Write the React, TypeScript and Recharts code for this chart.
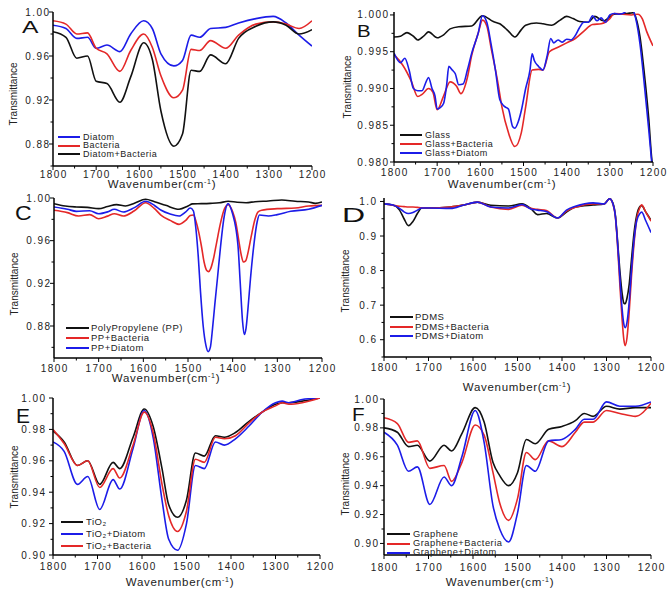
import React from 'react';
import { LineChart, Line, XAxis, YAxis, Legend } from 'recharts';

// ---------- data ----------
const X_TICKS = [1800, 1750, 1700, 1650, 1600, 1550, 1500, 1450, 1400, 1350, 1300, 1250, 1200];

// Panel A
const A_X = [1800, 1770, 1745, 1720, 1700, 1675, 1645, 1620, 1590, 1570, 1550, 1520, 1500, 1480, 1460, 1435, 1400, 1370, 1330, 1290, 1260, 1230, 1200];
const A_DIATOM = [0.988, 0.985, 0.976, 0.977, 0.967, 0.970, 0.964, 0.980, 0.992, 0.985, 0.962, 0.951, 0.956, 0.979, 0.977, 0.985, 0.986, 0.990, 0.994, 0.996, 0.990, 0.979, 0.969];
const A_BACTERIA = [0.992, 0.989, 0.980, 0.981, 0.967, 0.962, 0.946, 0.965, 0.980, 0.968, 0.942, 0.922, 0.929, 0.966, 0.965, 0.974, 0.967, 0.979, 0.989, 0.991, 0.989, 0.985, 0.992];
const A_BOTH = [0.982, 0.977, 0.958, 0.960, 0.937, 0.935, 0.918, 0.941, 0.972, 0.957, 0.910, 0.878, 0.889, 0.947, 0.946, 0.961, 0.953, 0.976, 0.987, 0.991, 0.988, 0.980, 0.984];
const A_NAMES = ['Diatom', 'Bacteria', 'Diatom+Bacteria'];
const A_Y_TICKS = [0.86, 0.88, 0.9, 0.92, 0.94, 0.96, 0.98, 1.0];
const A_Y_LABELS = [0.88, 0.92, 0.96, 1.0];

// Panel B
const B_GLASS_X = [1800, 1785, 1770, 1755, 1745, 1730, 1720, 1700, 1685, 1670, 1650, 1620, 1595, 1570, 1555, 1535, 1520, 1505, 1495, 1470, 1455, 1435, 1415, 1400, 1385, 1370, 1350, 1335, 1315, 1290, 1260, 1245, 1240, 1230, 1220, 1210, 1203, 1200];
const B_GLASS = [0.9970, 0.9971, 0.9976, 0.9971, 0.9966, 0.9972, 0.9977, 0.9969, 0.9973, 0.9981, 0.9984, 0.9985, 0.9999, 0.9991, 0.9988, 0.9978, 0.9970, 0.9980, 0.9986, 0.9989, 0.9988, 0.9986, 0.9993, 0.9998, 0.9995, 0.9991, 0.9990, 0.9998, 0.9992, 1.0001, 1.0002, 1.0003, 0.9997, 0.9970, 0.9920, 0.9860, 0.9805, 0.9790];
const B_BAC_X = [1800, 1780, 1760, 1745, 1735, 1720, 1710, 1700, 1685, 1670, 1655, 1645, 1630, 1620, 1605, 1595, 1585, 1575, 1560, 1550, 1535, 1520, 1505, 1495, 1480, 1465, 1455, 1440, 1420, 1400, 1380, 1360, 1340, 1320, 1300, 1290, 1270, 1250, 1235, 1225, 1215, 1200];
const B_BAC = [0.9946, 0.9932, 0.9910, 0.9889, 0.9892, 0.9900, 0.9895, 0.9871, 0.9890, 0.9909, 0.9903, 0.9893, 0.9915, 0.9945, 0.9975, 0.9993, 0.9985, 0.9955, 0.9910, 0.9875, 0.9840, 0.9821, 0.9840, 0.9875, 0.9925, 0.9926, 0.9925, 0.9950, 0.9956, 0.9962, 0.9968, 0.9978, 0.9987, 0.9988, 0.9995, 1.0002, 1.0001, 1.0000, 1.0001, 0.9995, 0.9978, 0.9958];
const B_DIA_X = [1800, 1785, 1775, 1765, 1755, 1745, 1735, 1725, 1720, 1712, 1705, 1700, 1693, 1685, 1678, 1673, 1665, 1658, 1650, 1640, 1630, 1620, 1605, 1595, 1585, 1575, 1565, 1555, 1545, 1535, 1525, 1520, 1512, 1505, 1495, 1485, 1480, 1475, 1465, 1455, 1445, 1437, 1430, 1420, 1410, 1400, 1390, 1380, 1370, 1360, 1350, 1340, 1330, 1320, 1310, 1300, 1290, 1280, 1270, 1260, 1250, 1240, 1230, 1220, 1210, 1203, 1200];
const B_DIA = [0.9948, 0.9935, 0.9941, 0.9925, 0.9900, 0.9897, 0.9897, 0.9910, 0.9915, 0.9900, 0.9890, 0.9872, 0.9874, 0.9880, 0.9905, 0.9930, 0.9925, 0.9920, 0.9905, 0.9906, 0.9925, 0.9948, 0.9975, 0.9999, 0.9990, 0.9960, 0.9925, 0.9885, 0.9876, 0.9872, 0.9848, 0.9846, 0.9855, 0.9870, 0.9900, 0.9925, 0.9947, 0.9938, 0.9930, 0.9925, 0.9945, 0.9968, 0.9962, 0.9966, 0.9963, 0.9967, 0.9966, 0.9972, 0.9983, 0.9990, 0.9990, 0.9999, 0.9992, 0.9996, 0.9990, 1.0000, 1.0002, 1.0001, 1.0002, 1.0006, 1.0009, 0.9995, 0.9960, 0.9905, 0.9845, 0.9800, 0.9780];
const B_NAMES = ['Glass', 'Glass+Bacteria', 'Glass+Diatom'];
const B_Y_TICKS = [0.98, 0.9825, 0.985, 0.9875, 0.99, 0.9925, 0.995, 0.9975, 1.0];
const B_Y_LABELS = [0.98, 0.985, 0.99, 0.995, 1.0];

// Panel C
const C_PP_X = [1800, 1775, 1750, 1725, 1700, 1680, 1660, 1640, 1620, 1595, 1575, 1550, 1520, 1500, 1490, 1470, 1450, 1430, 1410, 1390, 1370, 1350, 1320, 1290, 1260, 1230, 1215, 1200];
const C_PP = [0.9947, 0.9925, 0.9916, 0.9912, 0.9900, 0.9920, 0.9938, 0.9925, 0.9950, 0.9988, 0.9965, 0.9931, 0.9894, 0.9925, 0.9945, 0.9947, 0.9950, 0.9955, 0.9969, 0.9960, 0.9956, 0.9965, 0.9972, 0.9981, 0.9970, 0.9963, 0.9950, 0.9963];
const C_BAC_X = [1800, 1770, 1745, 1720, 1700, 1680, 1665, 1645, 1620, 1595, 1575, 1560, 1540, 1520, 1505, 1495, 1488, 1482, 1476, 1470, 1464, 1458, 1454, 1449, 1443, 1436, 1428, 1420, 1410, 1400, 1393, 1387, 1381, 1376, 1371, 1365, 1358, 1350, 1343, 1335, 1300, 1260, 1230, 1200];
const C_BAC = [0.9885, 0.9863, 0.9831, 0.9844, 0.9806, 0.9830, 0.9853, 0.9831, 0.9880, 0.9956, 0.9900, 0.9838, 0.9790, 0.9753, 0.9790, 0.9835, 0.9840, 0.9780, 0.9680, 0.9550, 0.9400, 0.9320, 0.9310, 0.9340, 0.9430, 0.9580, 0.9750, 0.9880, 0.9938, 0.9870, 0.9770, 0.9620, 0.9470, 0.9400, 0.9410, 0.9500, 0.9650, 0.9800, 0.9870, 0.9885, 0.9900, 0.9906, 0.9925, 0.9931];
const C_DIA_X = [1800, 1770, 1750, 1720, 1700, 1680, 1665, 1645, 1620, 1595, 1575, 1560, 1540, 1520, 1505, 1495, 1488, 1482, 1477, 1472, 1466, 1460, 1455, 1450, 1445, 1440, 1434, 1427, 1420, 1410, 1400, 1393, 1388, 1383, 1378, 1374, 1370, 1366, 1360, 1352, 1345, 1340, 1320, 1300, 1270, 1230, 1200];
const C_DIA = [0.9916, 0.9895, 0.9875, 0.9880, 0.9853, 0.9870, 0.9894, 0.9869, 0.9910, 0.9969, 0.9930, 0.9885, 0.9850, 0.9831, 0.9870, 0.9906, 0.9880, 0.9700, 0.9450, 0.9120, 0.8800, 0.8620, 0.8560, 0.8600, 0.8780, 0.9000, 0.9250, 0.9550, 0.9800, 0.9947, 0.9850, 0.9720, 0.9550, 0.9200, 0.8850, 0.8720, 0.8780, 0.8950, 0.9250, 0.9580, 0.9780, 0.9840, 0.9831, 0.9844, 0.9875, 0.9894, 0.9931];
const C_NAMES = ['PolyPropylene (PP)', 'PP+Bacteria', 'PP+Diatom'];
const C_Y_TICKS = [0.86, 0.88, 0.9, 0.92, 0.94, 0.96, 0.98, 1.0];
const C_Y_LABELS = [0.88, 0.92, 0.96, 1.0];

// Panel D
const D_X = [1800, 1780, 1765, 1755, 1745, 1735, 1725, 1715, 1700, 1650, 1620, 1590, 1560, 1520, 1490, 1470, 1455, 1435, 1410, 1390, 1370, 1330, 1305, 1293, 1285, 1280, 1276, 1270, 1265, 1261, 1258, 1254, 1249, 1244, 1238, 1232, 1225, 1221, 1212, 1200];
const D_PDMS = [0.993, 0.990, 0.975, 0.950, 0.930, 0.942, 0.965, 0.981, 0.981, 0.984, 0.990, 0.998, 0.989, 0.987, 0.993, 0.979, 0.962, 0.965, 0.952, 0.969, 0.984, 0.990, 0.993, 1.008, 0.993, 0.960, 0.900, 0.800, 0.735, 0.706, 0.704, 0.720, 0.760, 0.830, 0.910, 0.960, 0.985, 0.988, 0.970, 0.946];
const D_BAC = [0.993, 0.989, 0.986, 0.985, 0.984, 0.984, 0.983, 0.982, 0.981, 0.984, 0.990, 0.998, 0.984, 0.977, 0.989, 0.980, 0.977, 0.974, 0.952, 0.972, 0.983, 0.993, 0.993, 1.008, 0.990, 0.955, 0.890, 0.760, 0.660, 0.600, 0.583, 0.605, 0.680, 0.780, 0.880, 0.950, 0.982, 0.990, 0.970, 0.943];
const D_DIA = [0.993, 0.990, 0.980, 0.970, 0.965, 0.968, 0.975, 0.981, 0.981, 0.980, 0.990, 0.998, 0.984, 0.981, 0.991, 0.978, 0.975, 0.971, 0.952, 0.975, 0.986, 0.996, 0.993, 1.008, 0.991, 0.957, 0.895, 0.780, 0.690, 0.645, 0.635, 0.650, 0.710, 0.800, 0.890, 0.945, 0.965, 0.969, 0.945, 0.910];
const D_NAMES = ['PDMS', 'PDMS+Bacteria', 'PDMS+Diatom'];
const D_Y_TICKS = [0.55, 0.6, 0.65, 0.7, 0.75, 0.8, 0.85, 0.9, 0.95, 1.0];
const D_Y_LABELS = [0.6, 0.7, 0.8, 0.9, 1.0];

// Panel E
const E_X = [1800, 1775, 1745, 1722, 1695, 1665, 1650, 1620, 1595, 1575, 1555, 1540, 1520, 1500, 1480, 1460, 1435, 1415, 1390, 1360, 1330, 1300, 1285, 1270, 1240, 1200];
const E_TIO2 = [0.979, 0.972, 0.957, 0.960, 0.945, 0.959, 0.955, 0.975, 0.993, 0.982, 0.955, 0.932, 0.924, 0.935, 0.965, 0.963, 0.976, 0.975, 0.978, 0.985, 0.991, 0.996, 0.997, 0.997, 0.998, 1.000];
const E_DIA = [0.972, 0.966, 0.945, 0.950, 0.929, 0.948, 0.942, 0.968, 0.992, 0.975, 0.935, 0.910, 0.903, 0.920, 0.957, 0.955, 0.972, 0.970, 0.974, 0.982, 0.991, 0.997, 0.998, 0.997, 0.999, 1.000];
const E_BAC = [0.980, 0.971, 0.957, 0.960, 0.943, 0.955, 0.949, 0.970, 0.991, 0.978, 0.945, 0.925, 0.915, 0.928, 0.961, 0.959, 0.975, 0.974, 0.976, 0.984, 0.991, 0.995, 0.997, 0.996, 0.997, 1.000];
const E_NAMES = ['TiO₂', 'TiO₂+Diatom', 'TiO₂+Bacteria'];
const E_Y_TICKS = [0.9, 0.91, 0.92, 0.93, 0.94, 0.95, 0.96, 0.97, 0.98, 0.99, 1.0];
const E_Y_LABELS = [0.9, 0.92, 0.94, 0.96, 0.98, 1.0];

// Panel F
const F_X = [1800, 1770, 1745, 1725, 1697, 1665, 1648, 1625, 1595, 1575, 1555, 1540, 1520, 1500, 1480, 1460, 1430, 1400, 1370, 1350, 1330, 1300, 1270, 1235, 1200];
const F_GRAPHENE = [0.980, 0.977, 0.967, 0.968, 0.957, 0.968, 0.964, 0.976, 0.994, 0.984, 0.956, 0.947, 0.940, 0.949, 0.972, 0.969, 0.979, 0.981, 0.985, 0.990, 0.988, 0.995, 0.993, 0.994, 0.994];
const F_BAC = [0.987, 0.983, 0.970, 0.971, 0.952, 0.954, 0.943, 0.956, 0.982, 0.975, 0.949, 0.928, 0.916, 0.931, 0.963, 0.958, 0.971, 0.967, 0.977, 0.984, 0.984, 0.992, 0.990, 0.988, 0.997];
const F_DIA = [0.977, 0.968, 0.950, 0.953, 0.927, 0.946, 0.940, 0.960, 0.992, 0.970, 0.926, 0.910, 0.901, 0.921, 0.954, 0.950, 0.971, 0.972, 0.979, 0.986, 0.986, 0.998, 0.995, 0.995, 0.998];
const F_NAMES = ['Graphene', 'Graphene+Bacteria', 'Graphene+Diatom'];
const F_Y_TICKS = [0.9, 0.91, 0.92, 0.93, 0.94, 0.95, 0.96, 0.97, 0.98, 0.99, 1.0];
const F_Y_LABELS = [0.9, 0.92, 0.94, 0.96, 0.98, 1.0];

// ---------- styling ----------
const BLUE = '#1c1ce8';
const RED = '#e42828';
const BLACK = '#111111';
const FONT = '"Liberation Sans", Arial, Helvetica, sans-serif';

type Pt = { x: number; y: number };
type Series = { name: string; color: string; data: Pt[] };
const pts = (xs: number[], ys: number[]): Pt[] => xs.map((x, i) => ({ x, y: ys[i] }));

interface PanelCfg {
  letter: string;
  letterPos: { x: number; y: number; size: number; sx: number };
  plot: { l: number; t: number; r: number; b: number };
  yDomain: [number, number];
  yTicks: number[];
  yLabels: number[];
  yDigits: number;
  yGap: number;
  xOff: number;
  yTitle: { x: number; y: number };
  xTitle: { x: number; y: number };
  legend: { x: number; row1: number; gap: number; lineW: number; textGap: number; font: number };
  series: Series[];
}

const PANELS: PanelCfg[] = [
  {
    letter: 'A', letterPos: { x: 22, y: 33, size: 17, sx: 1.45 },
    plot: { l: 53, t: 12, r: 312, b: 166 }, yDomain: [0.86, 1.0],
    yTicks: A_Y_TICKS, yLabels: A_Y_LABELS, yDigits: 2, yGap: 4, xOff: 8,
    yTitle: { x: 13, y: 94 }, xTitle: { x: 162, y: 184 },
    legend: { x: 58, row1: 137, gap: 8.5, lineW: 22, textGap: 3, font: 9 },
    series: [
      { name: A_NAMES[0], color: BLUE, data: pts(A_X, A_DIATOM) },
      { name: A_NAMES[1], color: RED, data: pts(A_X, A_BACTERIA) },
      { name: A_NAMES[2], color: BLACK, data: pts(A_X, A_BOTH) },
    ],
  },
  {
    letter: 'B', letterPos: { x: 357, y: 36.5, size: 17, sx: 1.2 },
    plot: { l: 394, t: 12, r: 653, b: 162 }, yDomain: [0.98, 1.0004],
    yTicks: B_Y_TICKS, yLabels: B_Y_LABELS, yDigits: 3, yGap: 6, xOff: 10,
    yTitle: { x: 347, y: 87 }, xTitle: { x: 502, y: 184 },
    legend: { x: 400, row1: 135, gap: 9, lineW: 22, textGap: 3, font: 9 },
    series: [
      { name: B_NAMES[0], color: BLACK, data: pts(B_GLASS_X, B_GLASS) },
      { name: B_NAMES[1], color: RED, data: pts(B_BAC_X, B_BAC) },
      { name: B_NAMES[2], color: BLUE, data: pts(B_DIA_X, B_DIA) },
    ],
  },
  {
    letter: 'C', letterPos: { x: 15, y: 220, size: 20, sx: 1.15 },
    plot: { l: 54, t: 198, r: 322, b: 358 }, yDomain: [0.85, 1.0],
    yTicks: C_Y_TICKS, yLabels: C_Y_LABELS, yDigits: 2, yGap: 4, xOff: 10,
    yTitle: { x: 14, y: 284 }, xTitle: { x: 166, y: 378 },
    legend: { x: 66, row1: 328, gap: 10, lineW: 23, textGap: 2, font: 9.5 },
    series: [
      { name: C_NAMES[0], color: BLACK, data: pts(C_PP_X, C_PP) },
      { name: C_NAMES[1], color: RED, data: pts(C_BAC_X, C_BAC) },
      { name: C_NAMES[2], color: BLUE, data: pts(C_DIA_X, C_DIA) },
    ],
  },
  {
    letter: 'D', letterPos: { x: 342, y: 222, size: 20, sx: 1.6 },
    plot: { l: 384, t: 198, r: 651, b: 357 }, yDomain: [0.55, 1.01],
    yTicks: D_Y_TICKS, yLabels: D_Y_LABELS, yDigits: 1, yGap: 8, xOff: 10,
    yTitle: { x: 345, y: 281 }, xTitle: { x: 517, y: 387 },
    legend: { x: 390, row1: 317, gap: 9.5, lineW: 23, textGap: 2, font: 9.5 },
    series: [
      { name: D_NAMES[0], color: BLACK, data: pts(D_X, D_PDMS) },
      { name: D_NAMES[1], color: RED, data: pts(D_X, D_BAC) },
      { name: D_NAMES[2], color: BLUE, data: pts(D_X, D_DIA) },
    ],
  },
  {
    letter: 'E', letterPos: { x: 16, y: 423, size: 20, sx: 1.05 },
    plot: { l: 53, t: 398, r: 320, b: 555 }, yDomain: [0.9, 1.0],
    yTicks: E_Y_TICKS, yLabels: E_Y_LABELS, yDigits: 2, yGap: 8, xOff: 11,
    yTitle: { x: 14, y: 477 }, xTitle: { x: 180, y: 582 },
    legend: { x: 61, row1: 522, gap: 12, lineW: 22, textGap: 3, font: 9.5 },
    series: [
      { name: E_NAMES[0], color: BLACK, data: pts(E_X, E_TIO2) },
      { name: E_NAMES[1], color: BLUE, data: pts(E_X, E_DIA) },
      { name: E_NAMES[2], color: RED, data: pts(E_X, E_BAC) },
    ],
  },
  {
    letter: 'F', letterPos: { x: 352, y: 420.5, size: 18, sx: 1.15 },
    plot: { l: 384, t: 399, r: 651, b: 555 }, yDomain: [0.892, 1.0],
    yTicks: F_Y_TICKS, yLabels: F_Y_LABELS, yDigits: 2, yGap: 6, xOff: 12,
    yTitle: { x: 345, y: 484 }, xTitle: { x: 500, y: 582 },
    legend: { x: 387, row1: 534.5, gap: 9.3, lineW: 23, textGap: 3, font: 9.3 },
    series: [
      { name: F_NAMES[0], color: BLACK, data: pts(F_X, F_GRAPHENE) },
      { name: F_NAMES[1], color: RED, data: pts(F_X, F_BAC) },
      { name: F_NAMES[2], color: BLUE, data: pts(F_X, F_DIA) },
    ],
  },
];

const TICK_STYLE: React.CSSProperties = { fontFamily: FONT, fontSize: 10, letterSpacing: 1.4, fill: '#222' };
const ML = 60;
const MT = 10;
const MR = 25;

function Panel({ cfg }: { cfg: PanelCfg }) {
  const { l, t, r, b } = cfg.plot;
  const cl = l - ML;
  const ct = t - MT;
  const w = r - l + ML + MR;
  const h = b - t + MT + 40;
  const axisY = MT + (b - t);

  const xTick = (p: any) => {
    const v = p.payload.value as number;
    const major = v % 100 === 0;
    return (
      <g>
        <line x1={p.x} x2={p.x} y1={axisY} y2={axisY + (major ? 4 : 2.5)} stroke="#000" strokeWidth={1} />
        {major && (
          <text x={p.x + 0.7} y={axisY + cfg.xOff} textAnchor="middle" dominantBaseline="central" style={TICK_STYLE}>
            {v}
          </text>
        )}
      </g>
    );
  };

  const yTick = (p: any) => {
    const v = p.payload.value as number;
    const major = cfg.yLabels.some((q) => Math.abs(q - v) < 1e-7);
    return (
      <g>
        <line x1={ML} x2={ML - (major ? 4 : 2.5)} y1={p.y} y2={p.y} stroke="#000" strokeWidth={1} />
        {major && (
          <text x={ML - cfg.yGap + 1.4} y={p.y} textAnchor="end" dominantBaseline="central" style={TICK_STYLE}>
            {v.toFixed(cfg.yDigits)}
          </text>
        )}
      </g>
    );
  };

  const xTitle = () => (
    <text
      x={cfg.xTitle.x - cl}
      y={cfg.xTitle.y - ct + 4}
      textAnchor="middle"
      style={{ fontFamily: FONT, fontSize: 11.5, letterSpacing: 0.7, fill: '#222' }}
    >
      Wavenumber(cm
      <tspan dy={-4.5} fontSize={7}>-1</tspan>
      <tspan dy={4.5}>)</tspan>
    </text>
  );

  const yTitle = () => {
    const x = cfg.yTitle.x - cl;
    const y = cfg.yTitle.y - ct;
    return (
      <text
        x={x}
        y={y}
        transform={`rotate(-90 ${x} ${y})`}
        textAnchor="middle"
        dominantBaseline="central"
        style={{ fontFamily: FONT, fontSize: 10, fill: '#222' }}
      >
        Transmittance
      </text>
    );
  };

  const lg = cfg.legend;
  const legendContent = () => (
    <div style={{ position: 'relative', width: 170, height: lg.gap * 3 }}>
      {cfg.series.map((s, i) => (
        <div
          key={s.name}
          style={{
            position: 'absolute', left: 0, top: i * lg.gap, height: lg.gap,
            display: 'flex', alignItems: 'center', whiteSpace: 'nowrap',
          }}
        >
          <span style={{ display: 'inline-block', width: lg.lineW, height: 2, background: s.color, marginRight: lg.textGap }} />
          <span style={{ fontFamily: FONT, fontSize: lg.font, letterSpacing: 0.5, color: '#222', lineHeight: 1 }}>{s.name}</span>
        </div>
      ))}
    </div>
  );

  return (
    <div style={{ position: 'absolute', left: cl, top: ct }}>
      <LineChart width={w} height={h} margin={{ top: MT, right: MR, left: 0, bottom: 0 }}>
        <XAxis
          type="number"
          dataKey="x"
          domain={[1200, 1800]}
          reversed
          allowDataOverflow
          ticks={X_TICKS}
          interval={0}
          height={40}
          axisLine={{ stroke: '#000', strokeWidth: 1.5 }}
          tickLine={false}
          tick={xTick}
          label={xTitle}
        />
        <YAxis
          type="number"
          domain={cfg.yDomain}
          allowDataOverflow
          ticks={cfg.yTicks}
          interval={0}
          width={ML}
          axisLine={{ stroke: '#000', strokeWidth: 1.5 }}
          tickLine={false}
          tick={yTick}
          label={yTitle}
        />
        {cfg.series.map((s) => (
          <Line
            key={s.name}
            name={s.name}
            data={s.data}
            dataKey="y"
            type="monotone"
            stroke={s.color}
            strokeWidth={1.6}
            dot={false}
            activeDot={false}
            isAnimationActive={false}
          />
        ))}
        <Legend
          layout="vertical"
          align="center"
          verticalAlign="middle"
          content={legendContent}
          wrapperStyle={{ left: lg.x - cl, top: lg.row1 - lg.gap / 2 - ct, width: 'auto', height: 'auto', margin: 0 }}
        />
      </LineChart>
    </div>
  );
}

export default function App() {
  return (
    <div style={{ position: 'fixed', left: 0, top: 0, width: 671, height: 593, background: '#fff', overflow: 'hidden' }}>
      {PANELS.map((p) => (
        <Panel key={p.letter} cfg={p} />
      ))}
      <svg width={671} height={593} style={{ position: 'absolute', left: 0, top: 0, pointerEvents: 'none' }}>
        {PANELS.map((p) => (
          <text
            key={p.letter}
            transform={`translate(${p.letterPos.x} ${p.letterPos.y}) scale(${p.letterPos.sx} 1)`}
            style={{ fontFamily: FONT, fontSize: p.letterPos.size, fill: '#111' }}
          >
            {p.letter}
          </text>
        ))}
      </svg>
    </div>
  );
}
